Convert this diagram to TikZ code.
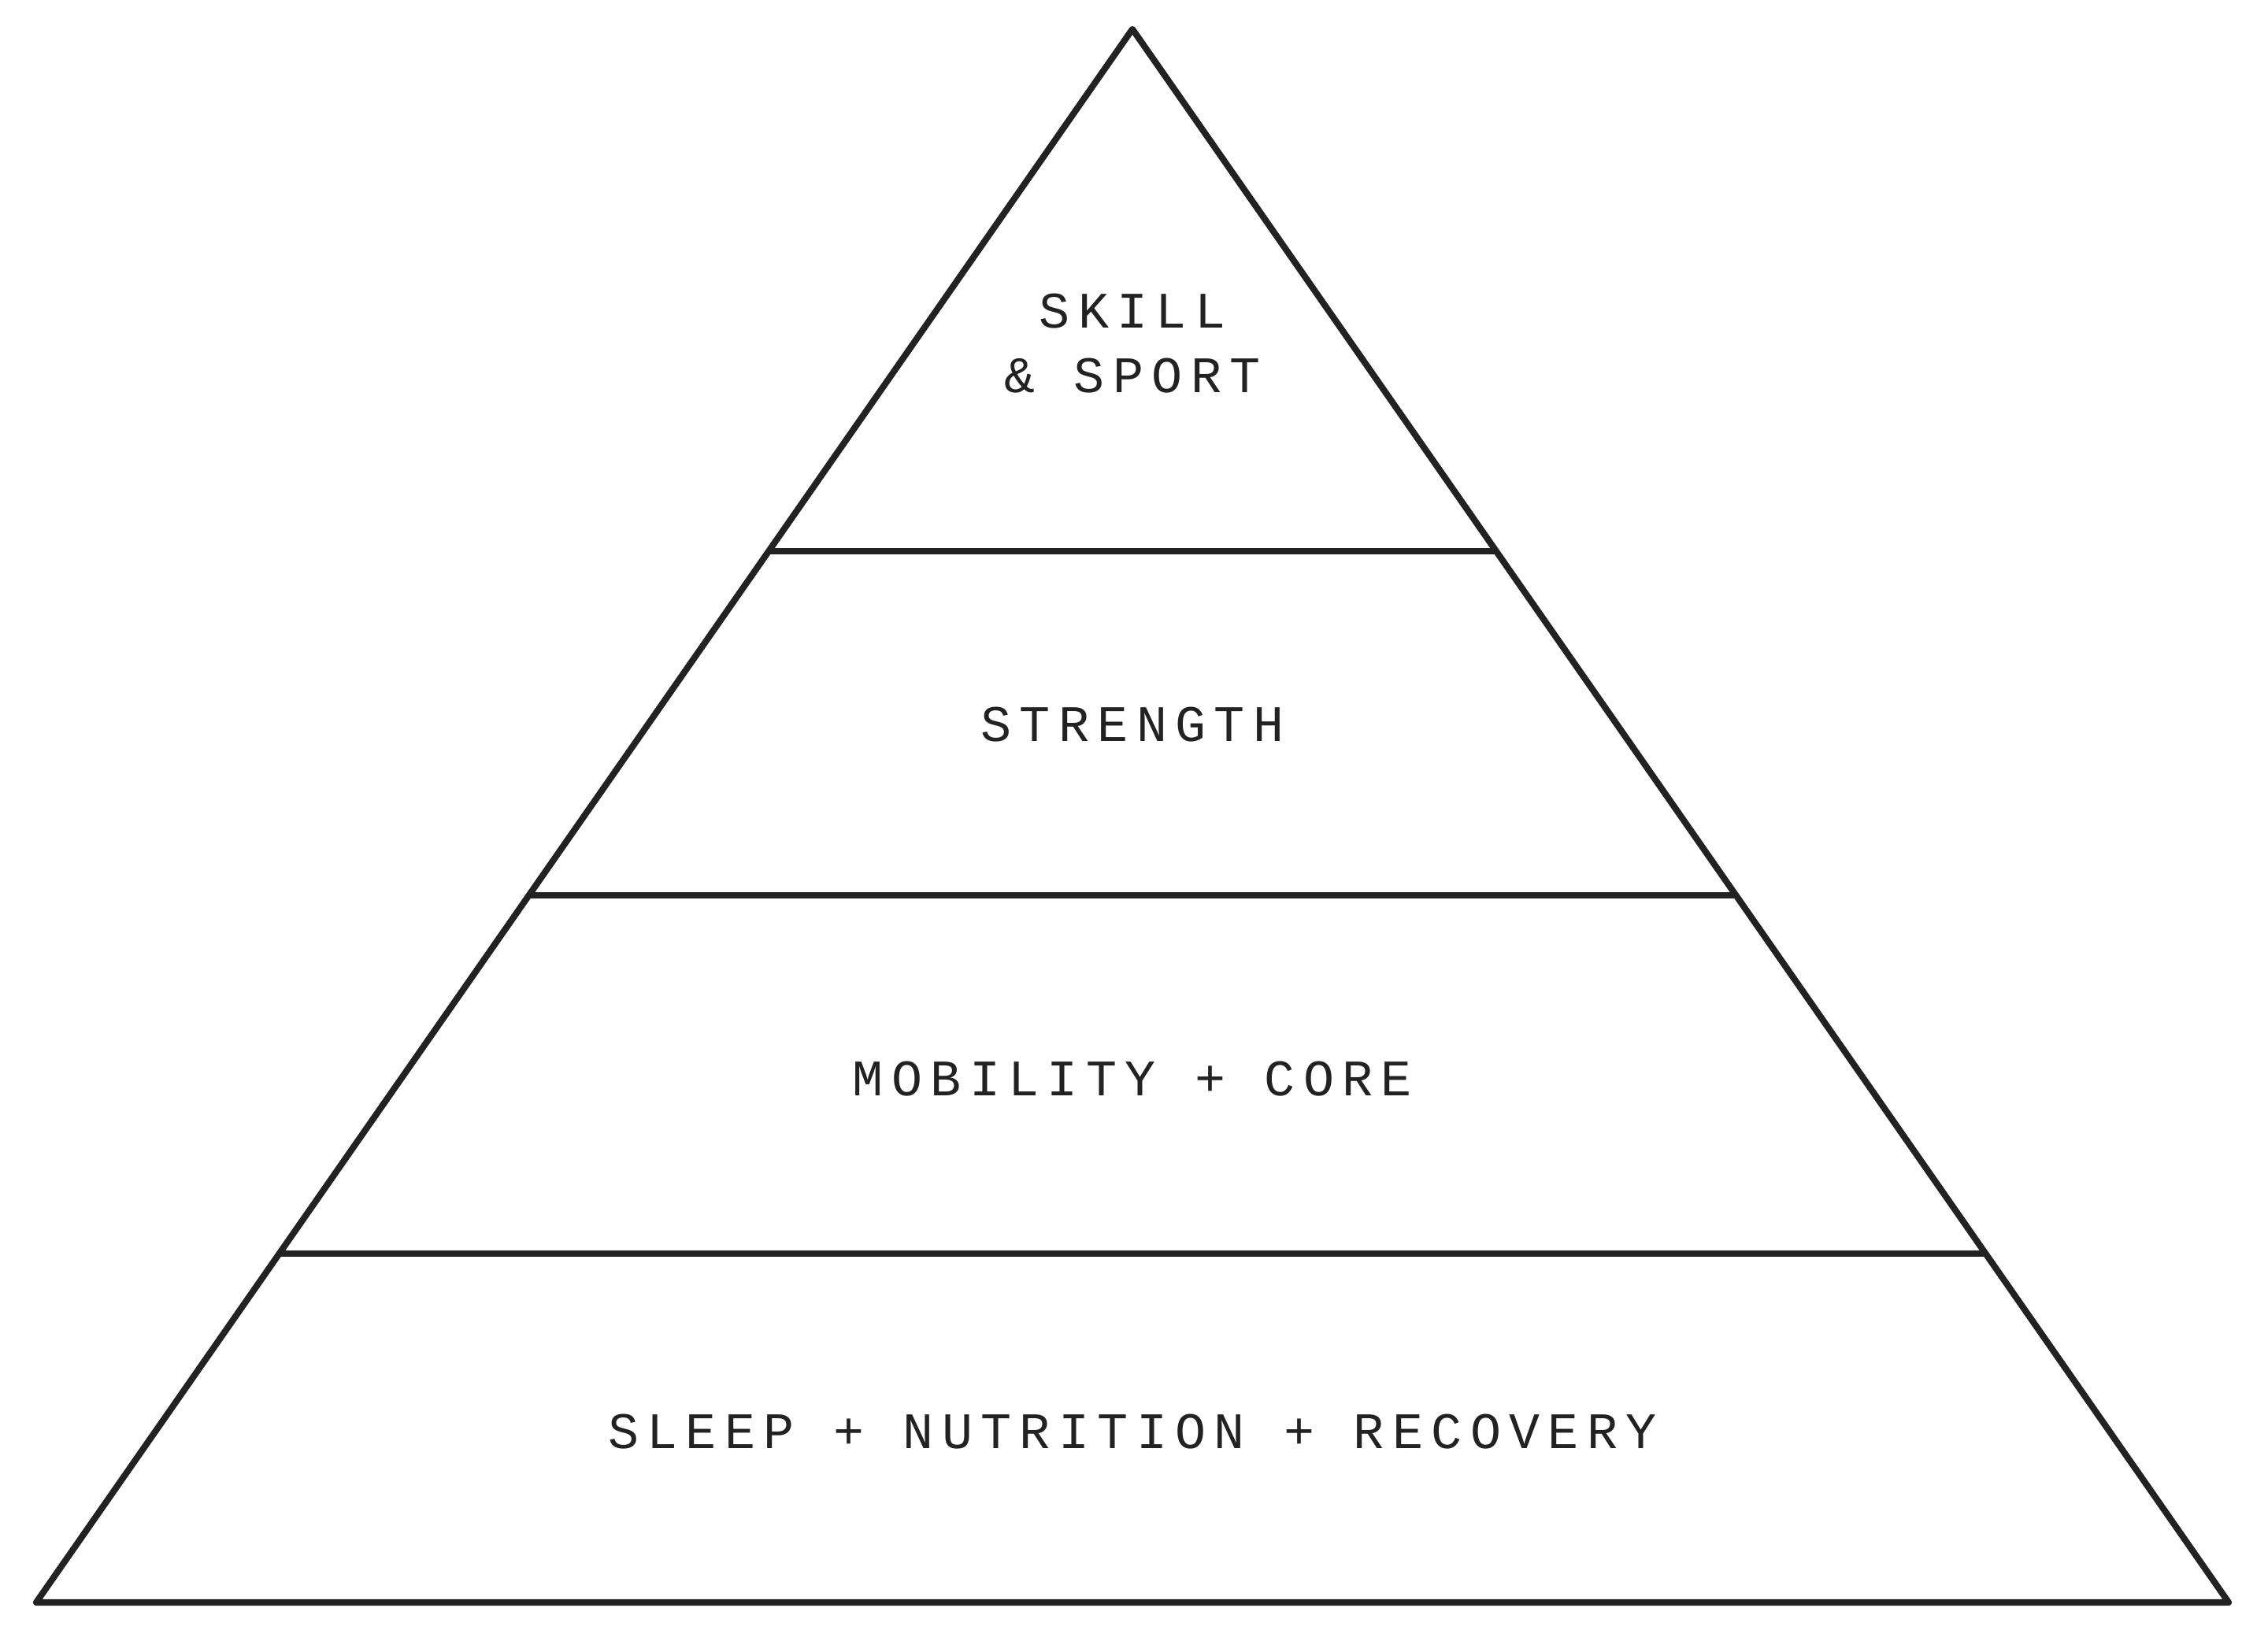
\documentclass[tikz,border=0pt]{standalone}
\usepackage{fontspec}
\usetikzlibrary{calc}
\newfontfamily\levelfont[LetterSpace=16]{Liberation Mono}
\definecolor{ink}{HTML}{222222}
\tikzset{
  edge/.style={line width=2.3pt, draw=ink, line join=round},
  level/.style={font=\levelfont\fontsize{18.5}{23.2}\selectfont, text=ink, align=center}
}
\begin{document}
\begin{tikzpicture}
  \useasboundingbox (0,0) rectangle (28.8,20.7);

  % Pyramid outline
  \coordinate (apex) at (14.38,20.33);
  \coordinate (baseL) at (0.46,0.35);
  \coordinate (baseR) at (28.30,0.35);
  \draw[edge, line cap=round] (apex) -- (baseL) -- (baseR) -- cycle;

  % Level dividers
  \foreach \t/\name in {0.3318/top, 0.5506/mid, 0.7783/low}
  {
    \coordinate (\name-l) at ($(apex)!\t!(baseL)$);
    \coordinate (\name-r) at ($(apex)!\t!(baseR)$);
    \draw[edge] (\name-l) -- (\name-r);
  }

  % Level labels
  \node[level] (skill) at (14.38,16.34) {SKILL\\\& SPORT};
  \node[level] (strength) at (14.38,11.50) {STRENGTH};
  \node[level] (mobility) at (14.38,7.00) {MOBILITY + CORE};
  \node[level] (base) at (14.38,2.52) {SLEEP + NUTRITION + RECOVERY};
\end{tikzpicture}
\end{document}
